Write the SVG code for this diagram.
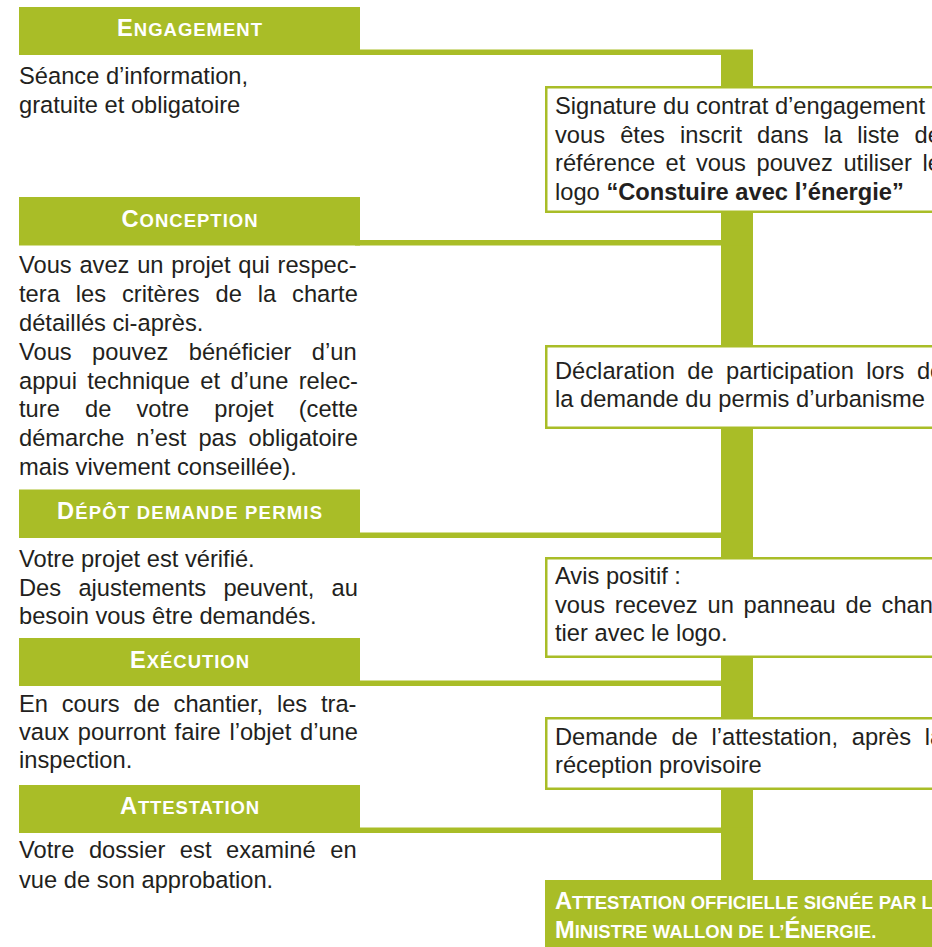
<svg xmlns="http://www.w3.org/2000/svg" width="932" height="947" viewBox="0 0 932 947">
<style>
.hdr{fill:#a9bd27}
.bar{fill:#a9bd27}
.box{fill:#ffffff;stroke:#a9bd27;stroke-width:2.5}
.fin{fill:#a9bd27}
.t{font-family:"Liberation Sans",Arial,sans-serif;font-size:23.7px;fill:#231f20}
.h{font-family:"Liberation Sans",Arial,sans-serif;font-weight:bold;fill:#ffffff}
.hc{font-size:23.7px}
.hs{font-size:18.5px}
.b{font-weight:bold}
</style>
<rect width="932" height="947" fill="#ffffff"/>
<g id="connectors">
  <rect class="bar" x="721" y="50" width="32" height="830"/>
  <rect class="bar" x="355" y="49.5" width="398" height="5.5"/>
  <rect class="bar" x="355" y="240" width="398" height="5.5"/>
  <rect class="bar" x="355" y="532.5" width="398" height="5.5"/>
  <rect class="bar" x="355" y="680.5" width="398" height="5.5"/>
  <rect class="bar" x="355" y="827.5" width="398" height="5.5"/>
</g>
<g id="engagement">
  <rect class="hdr" x="19" y="7" width="341" height="48"/>
  <text class="h" x="117" y="36" textLength="145" lengthAdjust="spacing"><tspan class="hc">E</tspan><tspan class="hs">NGAGEMENT</tspan></text>
  <text class="t" x="19" y="84">Séance d’information,</text>
  <text class="t" x="19" y="113">gratuite et obligatoire</text>
</g>
<g id="conception">
  <rect class="hdr" x="19" y="197" width="341" height="48.5"/>
  <text class="h" x="121.5" y="227" textLength="136" lengthAdjust="spacing"><tspan class="hc">C</tspan><tspan class="hs">ONCEPTION</tspan></text>
  <text class="t" x="19" y="273" word-spacing="1.14">Vous avez un projet qui respec-</text>
  <text class="t" x="19" y="302" word-spacing="9.32">tera les critères de la charte</text>
  <text class="t" x="19" y="331">détaillés ci-après.</text>
  <text class="t" x="19" y="360" word-spacing="13.77">Vous pouvez bénéficier d’un</text>
  <text class="t" x="19" y="388.5" word-spacing="3.73">appui technique et d’une relec-</text>
  <text class="t" x="19" y="417" word-spacing="18.56">ture de votre projet (cette</text>
  <text class="t" x="19" y="446" word-spacing="5.43">démarche n’est pas obligatoire</text>
  <text class="t" x="19" y="474.5">mais vivement conseillée).</text>
</g>
<g id="depot">
  <rect class="hdr" x="19" y="489.5" width="341" height="48.5"/>
  <text class="h" x="57" y="519" textLength="265" lengthAdjust="spacing"><tspan class="hc">D</tspan><tspan class="hs">ÉPÔT DEMANDE PERMIS</tspan></text>
  <text class="t" x="19" y="567">Votre projet est vérifié.</text>
  <text class="t" x="19" y="595.5" word-spacing="10.7">Des ajustements peuvent, au</text>
  <text class="t" x="19" y="623.5">besoin vous être demandés.</text>
</g>
<g id="execution">
  <rect class="hdr" x="19" y="638" width="341" height="48"/>
  <text class="h" x="130" y="668" textLength="119" lengthAdjust="spacing"><tspan class="hc">E</tspan><tspan class="hs">XÉCUTION</tspan></text>
  <text class="t" x="19" y="712" word-spacing="7.2">En cours de chantier, les tra-</text>
  <text class="t" x="19" y="740" word-spacing="2.1">vaux pourront faire l’objet d’une</text>
  <text class="t" x="19" y="768">inspection.</text>
</g>
<g id="attestation">
  <rect class="hdr" x="19" y="785" width="341" height="48"/>
  <text class="h" x="120" y="813.5" textLength="139" lengthAdjust="spacing"><tspan class="hc">A</tspan><tspan class="hs">TTESTATION</tspan></text>
  <text class="t" x="19" y="858" word-spacing="8.02">Votre dossier est examiné en</text>
  <text class="t" x="19" y="887.5">vue de son approbation.</text>
</g>
<g id="signature">
  <rect class="box" x="546.25" y="87.25" width="420" height="124.5"/>
  <text class="t" x="555" y="114">Signature du contrat d’engagement</text>
  <text class="t" x="555" y="142.5" word-spacing="8.57">vous êtes inscrit dans la liste de</text>
  <text class="t" x="555" y="171" word-spacing="3.96">référence et vous pouvez utiliser le</text>
  <text class="t" x="555" y="199.5">logo <tspan class="b">“Constuire avec l’énergie”</tspan></text>
</g>
<g id="declaration">
  <rect class="box" x="546.25" y="346.25" width="420" height="81.5"/>
  <text class="t" x="555" y="379" word-spacing="5.88">Déclaration de participation lors de</text>
  <text class="t" x="555" y="407">la demande du permis d’urbanisme</text>
</g>
<g id="avis">
  <rect class="box" x="546.25" y="558.25" width="420" height="98.5"/>
  <text class="t" x="555" y="584">Avis positif :</text>
  <text class="t" x="555" y="613" word-spacing="3.16">vous recevez un panneau de chan-</text>
  <text class="t" x="555" y="641">tier avec le logo.</text>
</g>
<g id="demande">
  <rect class="box" x="546.25" y="718.25" width="420" height="70.5"/>
  <text class="t" x="555" y="745" word-spacing="7.18">Demande de l’attestation, après la</text>
  <text class="t" x="555" y="773">réception provisoire</text>
</g>
<g id="attestation-officielle">
  <rect class="fin" x="545" y="880" width="420" height="80"/>
  <text class="h" x="555" y="909"><tspan class="hc">A</tspan><tspan class="hs">TTESTATION OFFICIELLE SIGNÉE PAR LE</tspan></text>
  <text class="h" x="555" y="938"><tspan class="hc">M</tspan><tspan class="hs">INISTRE WALLON DE L’</tspan><tspan class="hc">É</tspan><tspan class="hs">NERGIE.</tspan></text>
</g>
</svg>
